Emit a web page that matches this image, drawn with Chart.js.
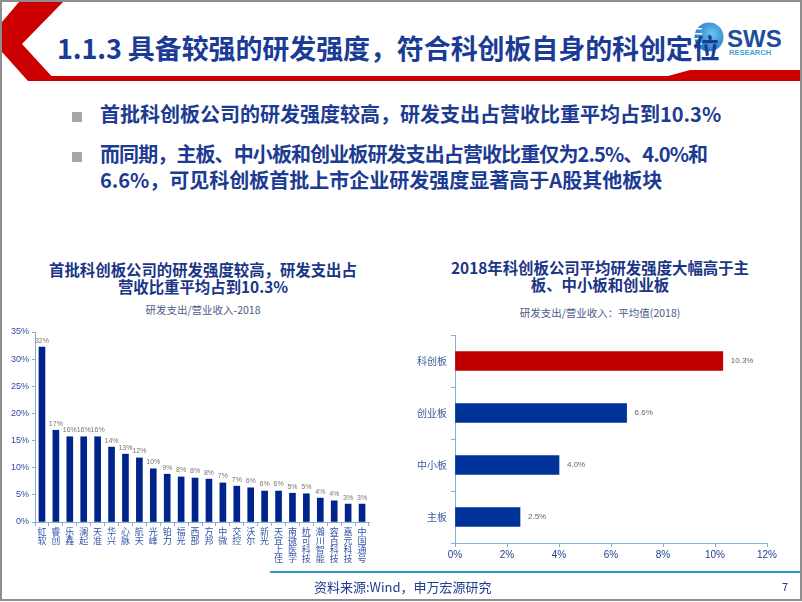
<!DOCTYPE html>
<html>
<head>
<meta charset="utf-8">
<script src="https://cdn.jsdelivr.net/npm/chart.js@4/dist/chart.umd.min.js"></script>
<style>
  html, body { margin: 0; padding: 0; background: #fff; }
  body { width: 802px; height: 602px; position: relative; overflow: hidden;
         font-family: "Noto Sans CJK SC", "Noto Sans", sans-serif; }
  .abs { position: absolute; }
  .frame { left: 0; top: 0; width: 798px; height: 597px; border: 2px solid #8e8e8e; }
  .title { left: 57px; top: 28px; font-size: 27px; font-weight: 700; color: #1a3c96;
           letter-spacing: -0.1px; white-space: nowrap; }
  .bullet { left: 72px; width: 10px; height: 10px; background: #a6a6a6; }
  .btext { left: 100px; font-size: 20px; font-weight: 700; color: #1c3b92; white-space: nowrap; line-height: 26px; }
  .tight { letter-spacing: -0.9px; }
  .ctitle { font-size: 15.4px; font-weight: 700; color: #1a3585; text-align: center; line-height: 17px; }
  .csub { font-size: 10.5px; color: #4a5b85; text-align: center; }
  .foot { left: 314px; top: 577px; font-size: 13px; color: #1f3c8e; }
  .page { left: 782px; top: 578px; font-size: 11px; color: #1f3c8e; }
</style>
</head>
<body>
<svg class="abs" style="left:0;top:0" width="802" height="90">
  <!-- red chevron and underline -->
  <polygon points="19,2 63,2 22,44 56,81 28,81 2,52 2,22" fill="#cc0000"/>
  <polygon points="50,76 668,76 690,70 800,70 800,81 50,81" fill="#cc0000"/>
  <!-- SWS logo -->
  <defs>
    <radialGradient id="lg" cx="0.6" cy="0.4" r="0.7">
      <stop offset="0" stop-color="#6ec6f0"/>
      <stop offset="1" stop-color="#1a6fc0"/>
    </radialGradient>
  </defs>
  <circle cx="709" cy="37" r="14.5" fill="url(#lg)"/>
  <rect x="688" y="28" width="14" height="1.5" fill="#fff"/>
  <rect x="686" y="33" width="16" height="1.5" fill="#fff"/>
  <rect x="688" y="38" width="14" height="1.5" fill="#fff"/>
  <rect x="690" y="43" width="12" height="1.5" fill="#fff"/>
  <text x="727" y="47" font-family="Liberation Sans, Arial, sans-serif" font-weight="700" font-size="24" fill="#1e4da0">SWS</text>
  <text x="729" y="55" font-family="Liberation Sans, Arial, sans-serif" font-weight="700" font-size="7.5" fill="#3fa2dc">RESEARCH</text>
</svg>
<div class="abs title">1.1.3 具备较强的研发强度，符合科创板自身的科创定位</div>

<div class="abs bullet" style="top:112px"></div>
<div class="abs btext" style="top:101px">首批科创板公司的研发强度较高，研发支出占营收比重平均占到10.3%</div>
<div class="abs bullet" style="top:152px"></div>
<div class="abs btext" style="top:141px"><span class="tight">而同期，主板、中小板和创业板研发支出占营收比重仅为2.5%、4.0%和</span><br>6.6%，可见科创板首批上市企业研发强度显著高于A股其他板块</div>

<div class="abs ctitle" style="left:20px;top:261px;width:366px">首批科创板公司的研发强度较高，研发支出占<br>营收比重平均占到10.3%</div>
<div class="abs csub" style="left:20px;top:302px;width:366px">研发支出/营业收入-2018</div>

<div class="abs ctitle" style="left:410px;top:259px;width:380px">2018年科创板公司平均研发强度大幅高于主<br>板、中小板和创业板</div>
<div class="abs csub" style="left:410px;top:305px;width:380px">研发支出/营业收入：平均值(2018)</div>

<div class="abs" style="left:0;top:320px;width:380px;height:250px"><canvas id="left"></canvas></div>
<div class="abs" style="left:400px;top:325px;width:400px;height:245px"><canvas id="right"></canvas></div>

<div class="abs" style="left:270px;top:571px;width:530px;height:2px;background:#2f9cc2"></div>
<div class="abs foot">资料来源:Wind，申万宏源研究</div>
<div class="abs page">7</div>
<div class="abs frame"></div>

<script>
// left chart: R&D spend / revenue of the first STAR market companies, 2018 (%)
const companies = ['虹软', '睿创', '乐鑫', '澜起', '天准', '华兴', '心脉', '航天', '光峰', '铂力', '福光', '西部',
  '方邦', '中微', '交控', '沃尔', '新光', '天宜上佳', '南微医学', '杭可科技', '瀚川智能', '容百科技', '嘉元科技', '中国通号'];
const rdRatio = [32.2, 16.9, 15.7, 15.7, 15.7, 13.8, 12.5, 11.8, 9.8, 8.8, 8.3, 8.1,
  7.9, 7.2, 6.6, 6.3, 5.7, 5.7, 5.3, 5.2, 4.4, 3.9, 3.3, 3.3];
const leftTicks = [0, 5, 10, 15, 20, 25, 30, 35];

// right chart: average R&D spend / revenue by board, 2018 (%)
const boards = ['科创板', '创业板', '中小板', '主板'];
const boardAvg = [10.3, 6.6, 4.0, 2.5];
const rightTicks = [0, 2, 4, 6, 8, 10, 12];

const axisBlue = '#86aedb';
const tickBlue = '#2d4c9c';

const valueLabels = {
  id: 'valueLabels',
  afterDatasetsDraw(chart, args, opts) {
    const ctx = chart.ctx;
    const meta = chart.getDatasetMeta(0);
    const values = chart.data.datasets[0].data;
    ctx.save();
    ctx.font = opts.font;
    ctx.fillStyle = opts.color;
    meta.data.forEach((bar, i) => {
      const text = opts.format(values[i]);
      if (opts.horizontal) {
        ctx.textAlign = 'left';
        ctx.textBaseline = 'middle';
        ctx.fillText(text, bar.x + 8, bar.y);
      } else {
        ctx.textAlign = 'center';
        ctx.textBaseline = 'bottom';
        ctx.fillText(text, bar.x, bar.y - 3);
      }
    });
    ctx.restore();
  }
};

new Chart(document.getElementById('left'), {
  type: 'bar',
  data: {
    labels: companies.map(n => n.split('')),
    datasets: [{ data: rdRatio, backgroundColor: '#00248c', barThickness: 6 }]
  },
  plugins: [valueLabels],
  options: {
    responsive: true,
    maintainAspectRatio: false,
    animation: false,
    layout: { padding: { left: 0, top: 12, right: 11, bottom: 0 } },
    plugins: {
      legend: { display: false },
      tooltip: { enabled: false },
      valueLabels: { font: '7px "Liberation Sans", sans-serif', color: '#777', format: v => Math.round(v) + '%' }
    },
    scales: {
      x: {
        grid: { offset: true, drawOnChartArea: false, tickLength: 4, color: axisBlue },
        border: { color: axisBlue },
        ticks: {
          autoSkip: false, maxRotation: 0, minRotation: 0, padding: 1, color: '#3556a6',
          font: { family: '"Noto Sans CJK SC"', size: 9, lineHeight: 1.0 }
        },
        afterFit: s => { s.height = 48; }
      },
      y: {
        min: 0, max: 35,
        grid: { drawOnChartArea: false, tickLength: 3, color: axisBlue },
        border: { color: axisBlue },
        afterBuildTicks: s => { s.ticks = leftTicks.map(v => ({ value: v })); },
        ticks: { padding: 3, color: tickBlue, font: { family: '"Liberation Sans"', size: 9 }, callback: v => v + '%' },
        afterFit: s => { s.width = 35; }
      }
    }
  }
});

new Chart(document.getElementById('right'), {
  type: 'bar',
  data: {
    labels: boards,
    datasets: [{
      data: boardAvg,
      backgroundColor: boards.map((b, i) => i === 0 ? '#c00000' : '#003399'),
      barThickness: 19
    }]
  },
  plugins: [valueLabels],
  options: {
    indexAxis: 'y',
    responsive: true,
    maintainAspectRatio: false,
    animation: false,
    layout: { padding: { left: 0, top: 10, right: 33, bottom: 0 } },
    plugins: {
      legend: { display: false },
      tooltip: { enabled: false },
      valueLabels: { horizontal: true, font: '8px "Liberation Sans", sans-serif', color: '#666', format: v => v.toFixed(1) + '%' }
    },
    scales: {
      x: {
        min: 0, max: 12,
        grid: { drawOnChartArea: false, tickLength: 4, color: axisBlue },
        border: { color: axisBlue },
        afterBuildTicks: s => { s.ticks = rightTicks.map(v => ({ value: v })); },
        ticks: { padding: 2, color: '#1f3f8f', font: { family: '"Liberation Sans"', size: 10 }, callback: v => v + '%' },
        afterFit: s => { s.height = 27; }
      },
      y: {
        grid: { offset: true, drawOnChartArea: false, tickLength: 4, color: axisBlue },
        border: { color: axisBlue },
        ticks: { padding: 4, color: '#3a5a9c', font: { family: '"Noto Sans CJK SC"', size: 10 } },
        afterFit: s => { s.width = 55; }
      }
    }
  }
});
</script>
</body>
</html>
